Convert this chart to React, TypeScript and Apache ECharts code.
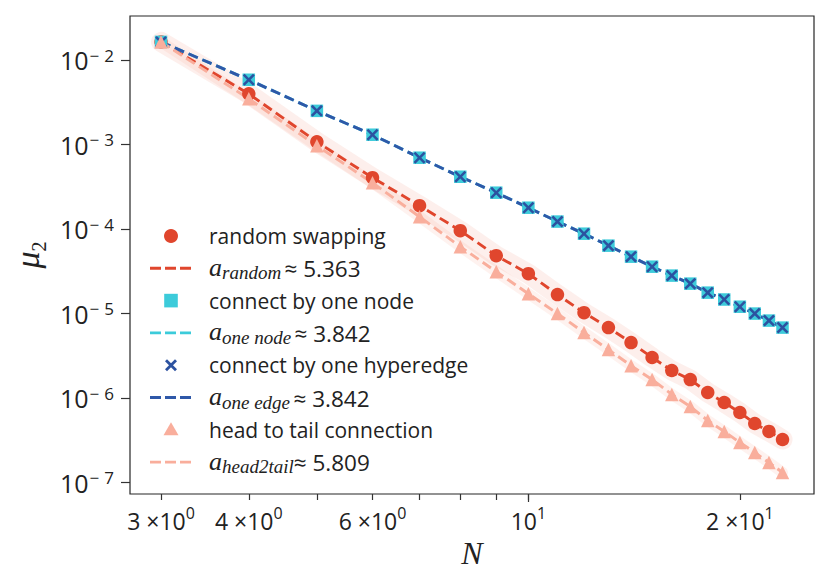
import React, { useEffect, useRef } from 'react';
import * as echarts from 'echarts';

const N_VALUES = [3, 4, 5, 6, 7, 8, 9, 10, 11, 12, 13, 14, 15, 16, 17, 18, 19, 20, 21, 22, 23];
const RANDOM_SWAPPING = [1.63e-2, 3.96e-3, 1.07e-3, 4.03e-4, 1.88e-4, 9.52e-5, 4.82e-5, 2.95e-5, 1.67e-5, 1.02e-5, 6.79e-6, 4.52e-6, 3.01e-6, 2.11e-6, 1.65e-6, 1.16e-6, 8.83e-7, 6.72e-7, 4.98e-7, 4.01e-7, 3.22e-7];
const ONE_NODE = [1.63e-2, 5.81e-3, 2.49e-3, 1.30e-3, 6.95e-4, 4.14e-4, 2.68e-4, 1.78e-4, 1.22e-4, 8.77e-5, 6.33e-5, 4.69e-5, 3.57e-5, 2.80e-5, 2.25e-5, 1.76e-5, 1.46e-5, 1.20e-5, 9.95e-6, 8.22e-6, 6.79e-6];
const ONE_EDGE = [1.63e-2, 5.81e-3, 2.49e-3, 1.30e-3, 6.95e-4, 4.14e-4, 2.68e-4, 1.78e-4, 1.22e-4, 8.77e-5, 6.33e-5, 4.69e-5, 3.57e-5, 2.80e-5, 2.25e-5, 1.76e-5, 1.46e-5, 1.20e-5, 9.95e-6, 8.22e-6, 6.79e-6];
const HEAD_TO_TAIL = [1.63e-2, 3.46e-3, 9.62e-4, 3.51e-4, 1.39e-4, 6.16e-5, 3.12e-5, 1.71e-5, 9.95e-6, 5.93e-6, 3.73e-6, 2.41e-6, 1.65e-6, 1.10e-6, 7.91e-7, 5.41e-7, 4.01e-7, 2.97e-7, 2.26e-7, 1.72e-7, 1.31e-7];

const SERIES_NAMES = ['random swapping', 'connect by one node', 'connect by one hyperedge', 'head to tail connection'];
const FIT_SUBSCRIPTS = ['random', 'one node', 'one edge', 'head2tail'];
const FIT_EXPONENTS = ['5.363', '3.842', '3.842', '5.809'];

const X_TICK_VALUES = [3, 4, 6, 10, 20];
const X_TICK_MANTISSA = ['3\u00A0×10', '4\u00A0×10', '6\u00A0×10', '10', '2\u00A0×10'];
const X_TICK_EXPONENT = ['0', '0', '0', '1', '1'];
const X_TICK_MARKS = [3, 4, 5, 6, 7, 8, 9, 10, 20];
const X_MAJOR_TICK = [10];
const Y_TICK_EXPONENTS = [-7, -6, -5, -4, -3, -2];
const X_RANGE = [2.71, 25.5];
const Y_RANGE = [7.3e-8, 3.3e-2];

const RED = '#E0462D';
const CYAN = '#3CCBDA';
const BLUE = '#2C52A0';
const PINK = '#F9AE9C';
const TEXT = '#222222';
const SANS = 'Open Sans';
const SERIF = 'Liberation Serif';
const DASH = [10, 5];
const LW = 2.9;

const pairs = (vals: number[]) => N_VALUES.map((n, i) => [n, vals[i]]);

const X_PATH = 'path://M1.5,0 L5,3.5 L8.5,0 L10,1.5 L6.5,5 L10,8.5 L8.5,10 L5,6.5 L1.5,10 L0,8.5 L3.5,5 L0,1.5 Z';

function buildLegend() {
  const els: any[] = [];
  const y0 = 236;
  const dy = 32.3;
  const mx = 171;
  const lx1 = 150;
  const lx2 = 192;
  const tx = 209;
  const colors = [RED, CYAN, BLUE, PINK];
  const lineColors = [RED, CYAN, '#2F58A8', PINK];
  const rich = {
    t: { fontFamily: SANS, fontSize: 21, fill: TEXT },
    a: { fontFamily: SERIF, fontStyle: 'italic', fontSize: 26, fill: TEXT, padding: [0, 0, 2, 0], verticalAlign: 'bottom' },
    s: { fontFamily: SERIF, fontStyle: 'italic', fontSize: 19, fill: TEXT, verticalAlign: 'bottom' },
    g: { fontFamily: SANS, fontSize: 13, fill: TEXT, verticalAlign: 'bottom' },
    e: { fontFamily: SANS, fontSize: 22.5, fill: TEXT, padding: [0, 0, 2, 0], verticalAlign: 'bottom' },
  };
  for (let i = 0; i < 4; i++) {
    const cy = y0 + 2 * i * dy;
    const cy2 = y0 + (2 * i + 1) * dy;
    const c = colors[i];
    if (i === 0) {
      els.push({ type: 'circle', shape: { cx: mx, cy, r: 7 }, style: { fill: c } });
    } else if (i === 1) {
      els.push({ type: 'rect', shape: { x: mx - 6.8, y: cy - 6.8, width: 13.6, height: 13.6 }, style: { fill: c } });
    } else if (i === 2) {
      els.push({ type: 'line', shape: { x1: mx - 5, y1: cy - 5, x2: mx + 5, y2: cy + 5 }, style: { stroke: c, lineWidth: 2.8 } });
      els.push({ type: 'line', shape: { x1: mx - 5, y1: cy + 5, x2: mx + 5, y2: cy - 5 }, style: { stroke: c, lineWidth: 2.8 } });
    } else {
      els.push({ type: 'polygon', shape: { points: [[mx, cy - 7.5], [mx + 7.5, cy + 5.5], [mx - 7.5, cy + 5.5]] }, style: { fill: c } });
    }
    els.push({ type: 'text', x: tx, y: cy, style: { text: `{t|${SERIES_NAMES[i]}}`, rich, verticalAlign: 'middle', align: 'left' } });
    els.push({ type: 'line', shape: { x1: lx1, y1: cy2, x2: lx2, y2: cy2 }, style: { stroke: lineColors[i], lineWidth: LW, lineDash: [11, 4] } });
    const lead = i === 3 ? '' : '{g|\u00A0}';
    els.push({ type: 'text', x: tx, y: cy2, style: { text: `{a|a}{s|${FIT_SUBSCRIPTS[i]}}${lead}{e|≈\u00A0${FIT_EXPONENTS[i]}}`, rich, verticalAlign: 'middle', align: 'left' } });
  }
  return els;
}

export default function App() {
  const ref = useRef<HTMLDivElement>(null);
  useEffect(() => {
    if (!ref.current) return;
    const chart = echarts.init(ref.current, null, { renderer: 'svg' });
    const lineSeries = (name: string, vals: number[], color: string, z: number) => ({
      name, type: 'line', data: pairs(vals), xAxisIndex: 0, yAxisIndex: 0,
      symbol: 'none', z, silent: true,
      lineStyle: { color, width: LW, type: DASH },
    });
    const xHelperBase = {
      type: 'value', position: 'bottom', min: Math.log10(X_RANGE[0]), max: Math.log10(X_RANGE[1]),
      axisLine: { show: false }, splitLine: { show: false },
    };
    const option: any = {
      animation: false,
      grid: { left: 130, right: 16, top: 16, bottom: 83, show: true, borderColor: '#262626', borderWidth: 1.2, containLabel: false },
      xAxis: [
        { type: 'log', logBase: 10, min: X_RANGE[0], max: X_RANGE[1], show: false },
        {
          ...xHelperBase,
          axisTick: { show: true, customValues: X_TICK_MARKS.map((v) => Math.log10(v)), length: 6, lineStyle: { color: '#333', width: 1.2 } },
          axisLabel: {
            customValues: X_TICK_VALUES.map((v) => Math.log10(v)), margin: 11,
            formatter: (v: number) => {
              const i = X_TICK_VALUES.findIndex((t) => Math.abs(Math.log10(t) - v) < 1e-6);
              return i < 0 ? '' : `{b|${X_TICK_MANTISSA[i]}}{s|${X_TICK_EXPONENT[i]}}`;
            },
            rich: {
              b: { fontFamily: SANS, fontSize: 23, color: TEXT, padding: [4, 0, 0, 0], verticalAlign: 'bottom' },
              s: { fontFamily: SANS, fontSize: 16, color: TEXT, verticalAlign: 'top' },
            },
          },
          name: 'N', nameLocation: 'middle', nameGap: 31,
          nameTextStyle: { fontFamily: SERIF, fontStyle: 'italic', fontSize: 32, color: TEXT },
        },
        {
          ...xHelperBase,
          axisTick: { show: true, customValues: X_MAJOR_TICK.map((v) => Math.log10(v)), length: 8, lineStyle: { color: '#333', width: 1.2 } },
          axisLabel: { show: false },
        },
      ],
      yAxis: [
        { type: 'log', logBase: 10, min: Y_RANGE[0], max: Y_RANGE[1], show: false },
        {
          type: 'value', position: 'left', min: Math.log10(Y_RANGE[0]), max: Math.log10(Y_RANGE[1]),
          axisLine: { show: false }, splitLine: { show: false },
          axisTick: { show: true, customValues: Y_TICK_EXPONENTS, length: 9, lineStyle: { color: '#333', width: 1.2 } },
          axisLabel: {
            customValues: Y_TICK_EXPONENTS, margin: 16,
            formatter: (v: number) => `{b|10}{m|−}{s|${Math.abs(Math.round(v))}}`,
            rich: {
              b: { fontFamily: SANS, fontSize: 25, color: TEXT, padding: [1, 0, 0, 0], verticalAlign: 'bottom' },
              m: { fontFamily: SANS, fontSize: 17, color: TEXT, padding: [0, 5, 0, 1], verticalAlign: 'top' },
              s: { fontFamily: SANS, fontSize: 17, color: TEXT, verticalAlign: 'top' },
            },
          },
          name: '{m|μ}{s|2}', nameLocation: 'middle', nameGap: 62, nameRotate: 90,
          nameTextStyle: {
            rich: {
              m: { fontFamily: SERIF, fontStyle: 'italic', fontSize: 34, color: TEXT, padding: [0, 0, 5, 0], verticalAlign: 'bottom' },
              s: { fontFamily: SERIF, fontSize: 20, color: TEXT, verticalAlign: 'bottom' },
            },
          },
        },
      ],
      series: [
        { type: 'line', data: pairs(RANDOM_SWAPPING), symbol: 'none', silent: true, z: 1, lineStyle: { color: 'rgba(239,120,100,0.12)', width: 20, cap: 'round', join: 'round' } },
        { type: 'line', data: pairs(HEAD_TO_TAIL), symbol: 'none', silent: true, z: 1, lineStyle: { color: 'rgba(249,170,150,0.15)', width: 11, cap: 'round', join: 'round' } },
        lineSeries('a_random', RANDOM_SWAPPING, RED, 2),
        { name: SERIES_NAMES[0], type: 'scatter', data: pairs(RANDOM_SWAPPING), symbol: 'circle', symbolSize: 13.5, itemStyle: { color: RED, opacity: 1 }, z: 3 },
        lineSeries('a_one_node', ONE_NODE, CYAN, 2),
        { name: SERIES_NAMES[1], type: 'scatter', data: pairs(ONE_NODE), symbol: 'rect', symbolSize: 12.5, itemStyle: { color: CYAN, opacity: 1 }, z: 3 },
        lineSeries('a_one_edge', ONE_EDGE, '#2F58A8', 2),
        { name: SERIES_NAMES[2], type: 'scatter', data: pairs(ONE_EDGE), symbol: X_PATH, symbolSize: 12, itemStyle: { color: BLUE, opacity: 1 }, z: 4 },
        lineSeries('a_head2tail', HEAD_TO_TAIL, PINK, 2),
        { name: SERIES_NAMES[3], type: 'scatter', data: pairs(HEAD_TO_TAIL), symbol: 'triangle', symbolSize: 13.5, itemStyle: { color: PINK, opacity: 1 }, z: 5 },
      ],
      graphic: buildLegend(),
    };
    chart.setOption(option);
    return () => chart.dispose();
  }, []);
  return <div ref={ref} style={{ position: 'fixed', left: 0, top: 0, width: 830, height: 577, background: '#fff' }} />;
}
